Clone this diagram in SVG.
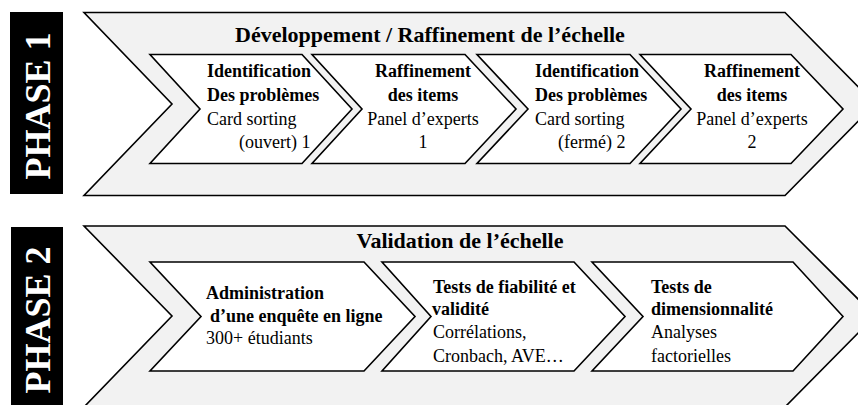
<svg xmlns="http://www.w3.org/2000/svg" width="858" height="405" viewBox="0 0 858 405">
  <style>
    .outer { fill: #f2f2f2; stroke: #000; stroke-width: 1.6; stroke-linejoin: miter; }
    .inner { fill: #ffffff; stroke: #000; stroke-width: 1.6; stroke-linejoin: miter; }
    .band { fill: #000; }
    .phase { font-family: "Liberation Serif", "Times New Roman", serif; font-weight: bold; font-size: 36px; fill: #fff; }
    .title { font-family: "Liberation Serif", "Times New Roman", serif; font-weight: bold; font-size: 22px; fill: #000; text-anchor: middle; }
    .b { font-family: "Liberation Serif", "Times New Roman", serif; font-weight: bold; font-size: 18px; fill: #000; }
    .r { font-family: "Liberation Serif", "Times New Roman", serif; font-size: 18px; fill: #000; }
    .c { text-anchor: middle; }
  </style>
  <rect width="858" height="405" fill="#fff"/>

  <!-- Phase 1: scale development / refinement -->
  <g id="phase1-label">
    <rect class="band" x="10" y="12" width="53" height="182"/>
    <text class="phase" transform="translate(50,106) rotate(-90)" text-anchor="middle">PHASE 1</text>
  </g>
  <g id="phase1">
    <polygon class="outer" points="84,12.5 785,12.5 875,104 785,195.5 84,195.5 172,104"/>
    <text class="title" x="430" y="42">Développement / Raffinement de l’échelle</text>
  </g>
  <g id="p1-step1">
    <polygon class="inner" points="150,54.5 302,54.5 352,109 302,163.5 150,163.5 200,109"/>
    <text class="b" x="207" y="77">Identification</text>
    <text class="b" x="207" y="101">Des problèmes</text>
    <text class="r" x="207" y="125">Card sorting</text>
    <text class="r" x="239" y="148">(ouvert) 1</text>
  </g>
  <g id="p1-step2">
    <polygon class="inner" points="312,54.5 465,54.5 516,109 465,163.5 312,163.5 362,109"/>
    <text class="b c" x="423" y="77">Raffinement</text>
    <text class="b c" x="423" y="101">des items</text>
    <text class="r c" x="423" y="125">Panel d’experts</text>
    <text class="r c" x="423" y="148">1</text>
  </g>
  <g id="p1-step3">
    <polygon class="inner" points="477,54.5 630,54.5 681,109 630,163.5 477,163.5 528,109"/>
    <text class="b" x="535" y="77">Identification</text>
    <text class="b" x="535" y="101">Des problèmes</text>
    <text class="r" x="535" y="125">Card sorting</text>
    <text class="r" x="558" y="148">(fermé) 2</text>
  </g>
  <g id="p1-step4">
    <polygon class="inner" points="640,54.5 791,54.5 843,109 791,163.5 640,163.5 691,109"/>
    <text class="b c" x="752" y="77">Raffinement</text>
    <text class="b c" x="752" y="101">des items</text>
    <text class="r c" x="752" y="125">Panel d’experts</text>
    <text class="r c" x="752" y="148">2</text>
  </g>

  <!-- Phase 2: scale validation -->
  <g id="phase2-label">
    <rect class="band" x="11" y="227" width="52" height="180"/>
    <text class="phase" transform="translate(50,320) rotate(-90)" text-anchor="middle">PHASE 2</text>
  </g>
  <g id="phase2">
    <polygon class="outer" points="84,226 785,226 875,316 785,407 84,407 172,316"/>
    <text class="title" x="460" y="248">Validation de l’échelle</text>
  </g>
  <g id="p2-step1">
    <polygon class="inner" points="150,262 364,262 415,316.5 364,371 150,371 201,316.5"/>
    <text class="b" x="206" y="299">Administration</text>
    <text class="b" x="210" y="322">d’une enquête en ligne</text>
    <text class="r" x="206" y="344">300+ étudiants</text>
  </g>
  <g id="p2-step2">
    <polygon class="inner" points="382,262 574,262 625,316.5 574,371 382,371 431,316.5"/>
    <text class="b" x="433" y="293">Tests de fiabilité et</text>
    <text class="b" x="432" y="315">validité</text>
    <text class="r" x="433" y="338">Corrélations,</text>
    <text class="r" x="433" y="362">Cronbach, AVE…</text>
  </g>
  <g id="p2-step3">
    <polygon class="inner" points="592,262 793,262 843,316.5 793,371 592,371 643,316.5"/>
    <text class="b" x="651" y="293">Tests de</text>
    <text class="b" x="651" y="315">dimensionnalité</text>
    <text class="r" x="651" y="338">Analyses</text>
    <text class="r" x="651" y="362">factorielles</text>
  </g>
</svg>
